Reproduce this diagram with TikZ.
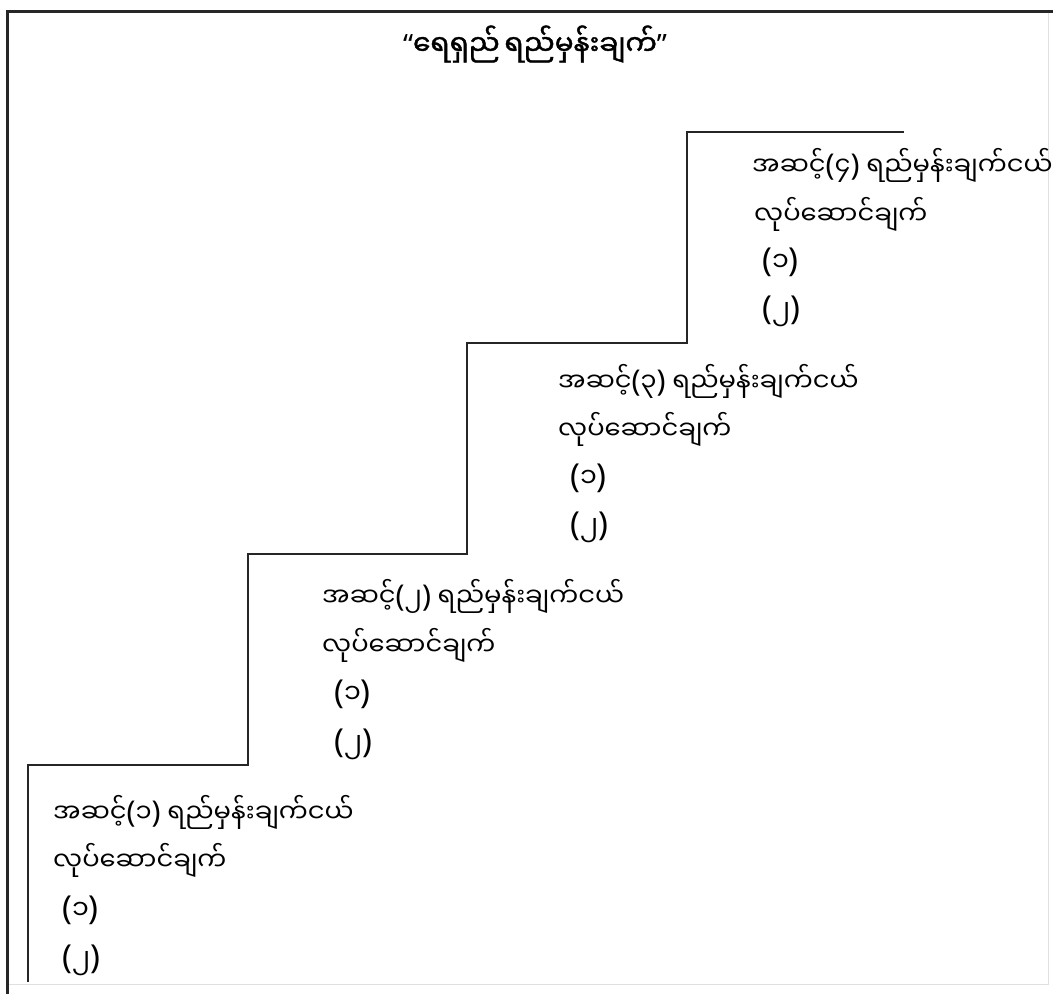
\documentclass[tikz,border=0pt]{standalone}
\usepackage{fontspec}
\newfontfamily\mya[Script=Myanmar,AutoFakeBold=1.5]{Noto Sans Myanmar UI}
\newfontfamily\latf{Noto Sans}
\newcommand\mypar[1]{{\latf\fontsize{30}{30}\selectfont (}#1{\latf\fontsize{30}{30}\selectfont )}}
\newcommand\bigpar[1]{{\latf\fontsize{33}{33}\selectfont (}#1{\latf\fontsize{33}{33}\selectfont )}}
\begin{document}
\begin{tikzpicture}[x=1pt,y=-1pt,
  frameline/.style={line width=3pt,black!85},
  faintline/.style={line width=1pt,black!12},
  stairline/.style={line width=1.8pt,black!85},
  txt/.style={anchor=west,inner sep=0pt,font=\mya\fontsize{25.8}{30}\selectfont},
  numtxt/.style={anchor=west,inner sep=0pt,font=\mya\fontsize{27}{32}\selectfont},
  titletxt/.style={anchor=center,inner sep=0pt,font=\mya\bfseries\fontsize{28}{32}\selectfont}]
\useasboundingbox (0,0) rectangle (1053,994);
% frame
\draw[faintline] (1048,11) -- (1048,984) -- (7,984);
\draw[frameline] (7,994) -- (7,11) -- (1053,11);
% title
\node[titletxt] (title) at (535,44) {{\latf\bfseries “}ရေရှည်\,ရည်မှန်းချက်{\latf\bfseries ”}};
% staircase
\coordinate (s0) at (28,982);
\coordinate (s1) at (28,765);
\coordinate (s2) at (248,765);
\coordinate (s3) at (248,554);
\coordinate (s4) at (467,554);
\coordinate (s5) at (467,343);
\coordinate (s6) at (687,343);
\coordinate (s7) at (687,132);
\coordinate (s8) at (904,132);
\draw[stairline] (s0) -- (s1) -- (s2) -- (s3) -- (s4) -- (s5) -- (s6) -- (s7) -- (s8);
% step 1
\node[txt] (a1) at (53,812) {အဆင့်\mypar{၁} ရည်မှန်းချက်ငယ်};
\node[txt] (b1) at (53,860) {လုပ်ဆောင်ချက်};
\node[numtxt] (c1) at (62,910) {\bigpar{၁}};
\node[numtxt] (d1) at (62,960) {\bigpar{၂}};
% step 2
\node[txt] (a2) at (322,596) {အဆင့်\mypar{၂} ရည်မှန်းချက်ငယ်};
\node[txt] (b2) at (322,645) {လုပ်ဆောင်ချက်};
\node[numtxt] (c2) at (334,694) {\bigpar{၁}};
\node[numtxt] (d2) at (334,744) {\bigpar{၂}};
% step 3
\node[txt] (a3) at (558,381) {အဆင့်\mypar{၃} ရည်မှန်းချက်ငယ်};
\node[txt] (b3) at (558,429) {လုပ်ဆောင်ချက်};
\node[numtxt] (c3) at (570,478) {\bigpar{၁}};
\node[numtxt] (d3) at (570,527) {\bigpar{၂}};
% step 4
\node[txt] (a4) at (752,165) {အဆင့်\mypar{၄} ရည်မှန်းချက်ငယ်};
\node[txt] (b4) at (754,214) {လုပ်ဆောင်ချက်};
\node[numtxt] (c4) at (762,262) {\bigpar{၁}};
\node[numtxt] (d4) at (762,311) {\bigpar{၂}};
\end{tikzpicture}
\end{document}
